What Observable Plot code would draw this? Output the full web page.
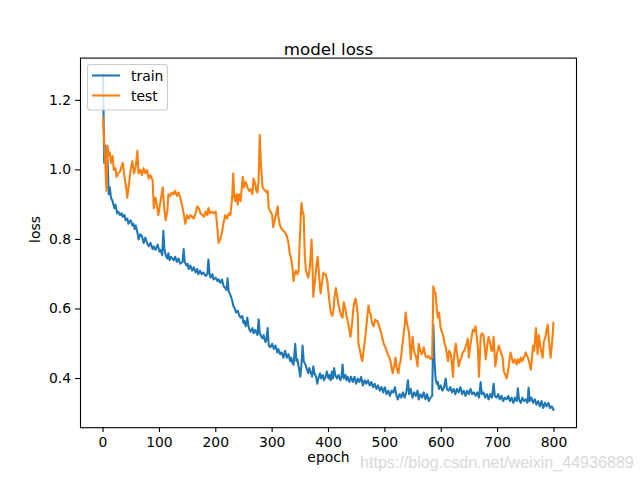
<!DOCTYPE html>
<html><head><meta charset="utf-8">
<script src="https://cdn.jsdelivr.net/npm/d3@7"></script>
<script src="https://cdn.jsdelivr.net/npm/@observablehq/plot@0.6"></script>
<style>body{margin:0;background:#fff}#chart{width:640px;height:480px}</style>
</head><body><div id="chart"></div>
<script>
const seriesNames = ["train", "test"];
const xTicks = [0, 100, 200, 300, 400, 500, 600, 700, 800];
const yTicks = [0.4, 0.6, 0.8, 1.0, 1.2];
const titleText = "model loss";
const xLabel = "epoch";
const yLabel = "loss";
const watermark = "https://blog.csdn.net/weixin_44936889";

const train = [[0,1.275],[2,1.02],[4,1.07],[6,1.0],[8,1.03],[10,0.93],[12,0.95],[14,0.92],[17,0.91],[20,0.89],[22,0.90],[25,0.875],[27,0.88],[30,0.87],[33,0.875],[35,0.865],[38,0.87],[40,0.855],[43,0.86],[45,0.845],[49,0.855],[52,0.84],[54,0.845],[56,0.83],[58,0.84],[61,0.82],[63,0.80],[66,0.815],[69,0.81],[72,0.79],[75,0.805],[78,0.79],[81,0.78],[84,0.79],[88,0.772],[90,0.78],[93,0.77],[97,0.785],[100,0.765],[102,0.77],[105,0.755],[107,0.825],[109,0.77],[111,0.755],[114,0.745],[116,0.76],[118,0.74],[120,0.75],[123,0.745],[125,0.74],[128,0.75],[131,0.735],[134,0.745],[137,0.73],[141,0.735],[143,0.772],[145,0.735],[148,0.725],[150,0.73],[152,0.715],[155,0.725],[158,0.71],[161,0.72],[164,0.705],[167,0.715],[169,0.70],[172,0.71],[175,0.70],[178,0.705],[182,0.695],[185,0.70],[187,0.742],[189,0.70],[191,0.69],[194,0.70],[196,0.685],[200,0.69],[203,0.68],[205,0.685],[208,0.675],[211,0.685],[214,0.665],[217,0.66],[219,0.655],[221,0.688],[223,0.65],[226,0.64],[229,0.625],[231,0.61],[234,0.60],[236,0.59],[239,0.595],[242,0.58],[244,0.575],[247,0.58],[249,0.56],[251,0.565],[253,0.55],[256,0.575],[258,0.55],[260,0.54],[262,0.535],[265,0.545],[267,0.53],[270,0.54],[274,0.525],[276,0.57],[278,0.53],[281,0.52],[283,0.515],[285,0.525],[288,0.505],[290,0.51],[292,0.545],[294,0.495],[297,0.49],[300,0.50],[303,0.485],[306,0.495],[309,0.475],[311,0.485],[314,0.47],[317,0.475],[320,0.46],[323,0.48],[326,0.46],[329,0.47],[332,0.45],[334,0.46],[336,0.445],[338,0.44],[341,0.50],[343,0.45],[345,0.455],[347,0.435],[350,0.405],[352,0.44],[354,0.495],[356,0.45],[359,0.44],[362,0.425],[364,0.415],[366,0.43],[368,0.42],[371,0.405],[373,0.435],[375,0.415],[378,0.405],[380,0.385],[382,0.40],[385,0.415],[387,0.40],[390,0.41],[392,0.395],[395,0.405],[397,0.42],[400,0.40],[402,0.41],[404,0.395],[406,0.42],[408,0.40],[410,0.43],[412,0.41],[415,0.40],[418,0.41],[421,0.395],[423,0.405],[425,0.44],[427,0.40],[430,0.41],[432,0.395],[434,0.405],[437,0.39],[440,0.405],[443,0.39],[446,0.405],[449,0.385],[452,0.40],[455,0.39],[458,0.405],[461,0.38],[464,0.395],[467,0.385],[470,0.395],[473,0.38],[476,0.39],[479,0.375],[482,0.385],[485,0.37],[488,0.38],[491,0.365],[494,0.375],[497,0.36],[500,0.375],[503,0.355],[506,0.365],[509,0.35],[512,0.365],[515,0.36],[518,0.375],[520,0.355],[523,0.34],[526,0.355],[529,0.345],[532,0.36],[535,0.345],[538,0.36],[541,0.395],[543,0.355],[546,0.37],[549,0.345],[552,0.36],[555,0.35],[558,0.365],[560,0.34],[563,0.355],[566,0.345],[569,0.36],[572,0.34],[575,0.355],[578,0.335],[581,0.345],[584,0.35],[586,0.555],[588,0.45],[590,0.40],[592,0.385],[594,0.39],[596,0.37],[599,0.38],[602,0.365],[605,0.375],[608,0.40],[610,0.37],[613,0.365],[616,0.375],[619,0.36],[622,0.37],[625,0.355],[628,0.37],[631,0.36],[634,0.375],[637,0.355],[640,0.365],[643,0.35],[646,0.365],[649,0.355],[652,0.37],[655,0.355],[658,0.36],[661,0.35],[664,0.36],[667,0.345],[670,0.39],[672,0.355],[675,0.36],[678,0.345],[681,0.355],[684,0.34],[687,0.355],[690,0.345],[693,0.385],[695,0.35],[698,0.345],[701,0.355],[704,0.34],[707,0.35],[710,0.335],[713,0.345],[716,0.34],[719,0.35],[722,0.335],[725,0.345],[728,0.33],[731,0.345],[734,0.335],[736,0.372],[738,0.34],[741,0.33],[744,0.345],[747,0.335],[750,0.34],[753,0.33],[755,0.374],[757,0.335],[760,0.345],[763,0.33],[766,0.34],[769,0.325],[772,0.335],[775,0.32],[778,0.335],[781,0.315],[784,0.33],[787,0.32],[790,0.33],[793,0.315],[796,0.32],[799,0.31]];

const test = [[0,1.15],[2,1.08],[4,1.02],[6,0.94],[8,1.07],[10,1.04],[12,1.05],[14,1.02],[17,1.04],[19,1.0],[22,1.005],[24,0.98],[27,0.99],[30,0.995],[33,1.01],[35,1.02],[38,0.98],[41,0.95],[43,0.92],[46,0.96],[49,1.0],[52,1.025],[55,0.99],[58,1.01],[61,1.055],[63,0.99],[66,1.0],[69,0.985],[72,1.005],[75,0.99],[78,1.0],[81,0.975],[84,0.985],[88,0.97],[90,0.89],[93,0.92],[95,0.905],[98,0.87],[101,0.90],[104,0.93],[106,0.95],[108,0.90],[111,0.855],[114,0.88],[116,0.93],[119,0.925],[122,0.935],[125,0.93],[128,0.94],[131,0.925],[134,0.935],[137,0.92],[140,0.90],[143,0.875],[146,0.845],[149,0.87],[152,0.86],[155,0.87],[158,0.865],[161,0.86],[164,0.875],[167,0.895],[170,0.89],[173,0.875],[176,0.87],[179,0.865],[182,0.88],[185,0.87],[187,0.89],[190,0.875],[193,0.88],[196,0.875],[200,0.88],[203,0.83],[205,0.79],[208,0.80],[211,0.82],[214,0.85],[217,0.87],[220,0.86],[223,0.875],[226,0.87],[229,0.92],[231,0.99],[233,0.92],[235,0.91],[237,0.93],[239,0.90],[241,0.93],[244,0.91],[248,0.98],[250,0.95],[253,0.965],[256,0.95],[259,0.94],[262,0.945],[265,0.93],[267,0.975],[270,0.96],[272,0.94],[274,0.935],[276,0.97],[278,1.10],[280,1.02],[283,0.95],[285,0.945],[288,0.94],[290,0.935],[292,0.94],[294,0.89],[297,0.88],[300,0.87],[302,0.835],[305,0.86],[308,0.88],[310,0.895],[311,0.865],[314,0.84],[317,0.83],[320,0.825],[323,0.82],[326,0.81],[329,0.79],[331,0.76],[333,0.75],[336,0.72],[338,0.68],[340,0.70],[342,0.71],[345,0.70],[347,0.71],[349,0.80],[352,0.905],[354,0.88],[356,0.87],[358,0.75],[360,0.71],[362,0.70],[364,0.69],[367,0.72],[370,0.80],[372,0.70],[373,0.635],[376,0.68],[379,0.73],[381,0.75],[383,0.70],[386,0.645],[388,0.67],[391,0.705],[393,0.70],[395,0.70],[398,0.68],[401,0.63],[404,0.59],[407,0.58],[409,0.60],[411,0.64],[413,0.66],[416,0.63],[418,0.61],[421,0.59],[423,0.58],[425,0.575],[427,0.62],[430,0.60],[432,0.58],[434,0.565],[437,0.54],[439,0.52],[442,0.56],[444,0.60],[446,0.62],[448,0.63],[450,0.61],[452,0.585],[453,0.50],[456,0.48],[458,0.46],[460,0.45],[463,0.49],[466,0.53],[469,0.58],[471,0.61],[473,0.59],[475,0.585],[477,0.56],[480,0.55],[483,0.57],[485,0.565],[487,0.565],[490,0.55],[492,0.54],[495,0.52],[498,0.50],[501,0.49],[503,0.48],[505,0.47],[508,0.46],[510,0.45],[512,0.43],[514,0.415],[517,0.44],[519,0.46],[521,0.43],[524,0.415],[526,0.44],[528,0.45],[530,0.48],[532,0.51],[535,0.55],[537,0.59],[539,0.56],[541,0.545],[543,0.53],[546,0.455],[549,0.52],[551,0.49],[553,0.47],[555,0.465],[558,0.435],[560,0.50],[563,0.48],[565,0.47],[567,0.475],[569,0.49],[572,0.465],[575,0.46],[578,0.465],[581,0.455],[584,0.46],[586,0.665],[588,0.65],[590,0.645],[592,0.60],[594,0.575],[596,0.59],[599,0.545],[602,0.53],[604,0.52],[606,0.50],[608,0.49],[610,0.47],[612,0.45],[614,0.48],[617,0.47],[619,0.44],[621,0.405],[622,0.45],[624,0.48],[626,0.50],[628,0.47],[630,0.45],[631,0.435],[634,0.455],[636,0.46],[638,0.475],[641,0.48],[643,0.49],[645,0.50],[647,0.515],[649,0.46],[652,0.50],[654,0.52],[656,0.54],[658,0.535],[661,0.55],[663,0.52],[665,0.49],[667,0.405],[670,0.52],[672,0.53],[675,0.525],[677,0.49],[679,0.455],[682,0.50],[684,0.52],[687,0.50],[689,0.48],[691,0.48],[693,0.52],[696,0.435],[699,0.47],[702,0.495],[705,0.48],[707,0.47],[709,0.46],[711,0.42],[714,0.41],[716,0.40],[718,0.415],[720,0.44],[723,0.475],[725,0.46],[728,0.445],[731,0.455],[734,0.44],[736,0.455],[739,0.445],[741,0.46],[744,0.45],[746,0.46],[748,0.465],[750,0.475],[752,0.465],[754,0.46],[757,0.44],[759,0.425],[761,0.46],[763,0.495],[765,0.48],[768,0.545],[771,0.47],[773,0.525],[776,0.49],[778,0.475],[780,0.46],[782,0.505],[785,0.52],[787,0.54],[789,0.555],[791,0.51],[794,0.46],[796,0.49],[798,0.53],[799,0.56]];

const rows = [
  ...train.map(([epoch, loss]) => ({series: seriesNames[0], epoch, loss})),
  ...test.map(([epoch, loss]) => ({series: seriesNames[1], epoch, loss}))
];
const colors = ["#1f77b4", "#ff7f0e"];
const font = "DejaVu Sans";

const plot = Plot.plot({
  width: 640, height: 480,
  marginLeft: 80, marginRight: 64, marginTop: 57.6, marginBottom: 52.8,
  style: {fontFamily: font, fontSize: "13.9px", background: "white", color: "black", overflow: "visible"},
  x: {domain: [-40, 840]},
  y: {domain: [0.2585, 1.3215]},
  color: {domain: seriesNames, range: colors},
  marks: [
    Plot.line(rows, {x: "epoch", y: "loss", z: "series", stroke: "series", strokeWidth: 2.08, strokeLinejoin: "round", strokeLinecap: "square"}),
    Plot.frame({stroke: "black", strokeWidth: 1.1}),
    Plot.axisX({ticks: xTicks, tickSize: 4.9, tickPadding: 4.5, tickFormat: d => String(d), label: null, fontSize: 13.9, strokeWidth: 1.1}),
    Plot.axisY({ticks: yTicks, tickSize: 4.9, tickPadding: 4.5, tickFormat: d3.format(".1f"), label: null, fontSize: 13.9, strokeWidth: 1.1}),
    Plot.text([titleText], {text: d => d, frameAnchor: "top", dy: -15, fontSize: 16.7}),
    Plot.text([xLabel], {text: d => d, frameAnchor: "bottom", dy: 34, fontSize: 13.9}),
    Plot.text([yLabel], {text: d => d, frameAnchor: "left", dx: -45, rotate: -90, fontSize: 13.9})
  ]
});

const svg = d3.select(plot);
const lg = svg.append("g").attr("font-family", font).attr("font-size", 13.9).attr("text-anchor", "start");
lg.append("rect").attr("x", 87.5).attr("y", 64.5).attr("width", 80).attr("height", 45.5).attr("rx", 2.8)
  .attr("fill", "white").attr("fill-opacity", 0.8).attr("stroke", "#cccccc").attr("stroke-width", 1.1);
seriesNames.forEach((name, i) => {
  const yy = 75.5 + i * 20;
  lg.append("line").attr("x1", 92).attr("x2", 120).attr("y1", yy).attr("y2", yy)
    .attr("stroke", colors[i]).attr("stroke-width", 2.08);
  lg.append("text").attr("x", 131).attr("y", yy).attr("dy", "0.36em").attr("fill", "black")
    .style("text-anchor", "start").text(name);
});
svg.append("text").attr("x", 360).attr("y", 468).attr("font-family", "Liberation Sans").attr("font-size", 16.1)
  .attr("fill", "#d9d9d9").style("text-anchor", "start").attr("text-anchor", "start").text(watermark);

document.getElementById("chart").appendChild(plot);
</script>
</body></html>
